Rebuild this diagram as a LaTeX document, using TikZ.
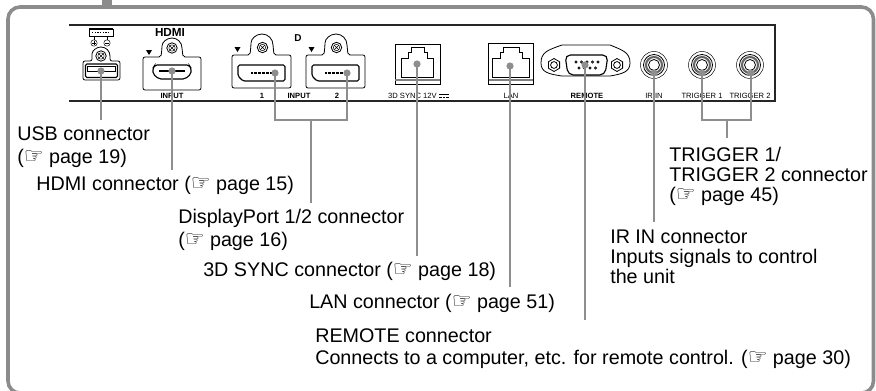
\documentclass[tikz,border=0pt]{standalone}
\usepackage{fontspec}
\setmainfont{Liberation Sans}
\newfontfamily\handfont{DejaVu Sans}
\newcommand{\hand}{\raisebox{-.5pt}{\smash{\handfont\fontsize{16.5}{17}\selectfont ☞}}}
\newcommand{\screw}[2]{%
  \draw[fine] (#1,#2) circle[radius=5.2];
  \draw[hair] (#1,#2) circle[radius=3.2];
  \draw[hair] (#1-2.6,#2-2.6) -- (#1+2.6,#2+2.6) (#1-2.6,#2+2.6) -- (#1+2.6,#2-2.6);}
\newcommand{\nut}[2]{%
  \draw[fine] (#1,#2-6.5) -- (#1+5.6,#2-3.2) -- (#1+5.6,#2+3.2) -- (#1,#2+6.5) -- (#1-5.6,#2+3.2) -- (#1-5.6,#2-3.2) -- cycle;
  \draw[fine] (#1,#2) circle[radius=3.4];}
\newcommand{\rca}[2]{%
  \draw[hair] (#1,#2) circle[radius=13.5];
  \draw[fine] (#1,#2) circle[radius=10.5];
  \draw[line width=1.6pt,black!60] (#1,#2) circle[radius=8];
  \draw[fine] (#1,#2) circle[radius=5.5];}
\newcommand{\dpport}[1]{%
  \begin{scope}[xshift=#1*0.75pt]
  \draw[fine,rounded corners=1.5pt] (232,55) -- (250,55) -- (251,45) [sharp corners] arc[start angle=180,end angle=360,radius=11] [rounded corners=1.5pt] -- (274,55) -- (291,55) -- (291,88) -- (232,88) -- cycle;
  \screw{262.5}{47.5}
  \fill (234.5,47) -- (240.5,47) -- (237.5,52) -- cycle;
  \draw[thin0,rounded corners=1.2pt] (238,65) -- (285,65) -- (285,81) -- (243,81) -- (238,76) -- cycle;
  \draw[line width=1.8pt,dash pattern=on .6pt off .4pt] (251,73) -- (274,73);
  \end{scope}}
\tikzset{
  hair/.style={line width=.35pt,black},
  fine/.style={line width=.6pt,black},
  thin0/.style={line width=.85pt,black},
  panel/.style={line width=1.0pt,black!85},
  frameline/.style={line width=2.7pt,framegray},
  leader/.style={line width=1.8pt,leadgray},
  leaddot/.style={fill=leadgray},
  lbl/.style={anchor=base west,align=left,inner sep=0pt,font=\fontsize{14.8}{15}\selectfont},
  tiny0/.style={anchor=base,inner sep=0pt,font=\fontsize{5.7}{6}\selectfont},
  tinyb/.style={anchor=base,inner sep=0pt,font=\fontsize{5.7}{6}\selectfont\bfseries},
}
\definecolor{framegray}{HTML}{8C8C8C}
\definecolor{leadgray}{HTML}{8E8E8E}
\begin{document}
\begin{tikzpicture}[x=.75pt,y=-.75pt]
\useasboundingbox (0,0) rectangle (876,390);
\clip (0,0) rectangle (876,390);
% frame and tab
\draw[frameline,rounded corners=9pt] (8,7) rectangle (873.5,393);
\fill[framegray] (102,0) rectangle (112,7);
% panel
\draw[panel] (69,25) -- (775,25) -- (775,101) -- (69,101);
% USB
\draw[line width=1.4pt] (89,29) -- (113,29);
\draw[hair] (89,29) -- (89,36) -- (113,36) -- (113,29);
\draw[line width=.7pt,dash pattern=on 1pt off 1pt] (92,32.5) -- (110,32.5);
\draw[hair] (94,36) -- (94,40) (107,36) -- (107,40);
\draw[hair] (94,43) circle[radius=3.2] (107,43) circle[radius=3.2];
\draw[hair] (92,43) -- (96,43) (94,41) -- (94,45) (105,43) -- (109,43);
\draw[fine,rounded corners=1.5pt] (83,61) -- (92,61) -- (92,56) [sharp corners] arc[start angle=180,end angle=360,radius=9] [rounded corners=1.5pt] -- (110,61) -- (120,61) -- (120,80) -- (83,80) -- cycle;
\screw{101}{56}
\draw[thin0,rounded corners=1pt] (85.5,64) rectangle (117.5,77.5);
\draw[fine] (87.5,66) rectangle (115.5,71);
% HDMI
\node[inner sep=0pt,anchor=base,font=\fontsize{8.8}{9}\selectfont\bfseries] (hdmilogo) at (170,36) {HDMI};
\draw[fine,rounded corners=1.5pt] (143,57) -- (161,57) -- (162,48) [sharp corners] arc[start angle=180,end angle=360,radius=10] [rounded corners=1.5pt] -- (183,57) -- (201,57) -- (201,90) -- (143,90) -- cycle;
\screw{172}{48}
\fill (146,50) -- (152,50) -- (149,55) -- cycle;
\draw[thin0,rounded corners=1.5pt] (155,65) -- (189,65) -- (191,68) -- (191,74) -- (185,79) -- (159,79) -- (153,74) -- (153,68) -- cycle;
\draw[line width=1.2pt] (159,71) -- (185,71);
\node[tinyb] (inputa) at (172,98) {INPUT};
% DisplayPort
\node[inner sep=0pt,anchor=base,font=\fontsize{7.5}{8}\selectfont\bfseries] (dplogo) at (298,41) {D};
\dpport{0}
\dpport{74}
\node[tinyb] (dpone) at (262,98) {1};
\node[tinyb] (inputb) at (299,98) {INPUT};
\node[tinyb] (dptwo) at (337,98) {2};
% 3D SYNC
\draw[fine] (395,44) rectangle (440,84);
\draw[line width=1pt,black!50] (395,80) -- (440,80);
\draw[fine] (401,77) -- (401,58) -- (408,58) -- (408,52) -- (411,52) -- (411,47) -- (424,47) -- (424,52) -- (427,52) -- (427,58) -- (433,58) -- (433,77) -- cycle;
\node[tiny0,anchor=base east] (sync) at (437,98) {3D SYNC 12V};
\draw[hair,line width=.6pt] (439,94.5) -- (449,94.5);
\draw[hair,line width=.6pt,dash pattern=on 2pt off .8pt] (439,97) -- (449,97);
% LAN
\draw[fine] (488.5,43) rectangle (533,84.5);
\draw[line width=1pt,black!50] (488.5,80) -- (533,80);
\draw[fine] (492,77) -- (492,58) -- (500,58) -- (500,52) -- (503,52) -- (503,47.5) -- (519,47.5) -- (519,52) -- (522,52) -- (522,58) -- (529,58) -- (529,77) -- cycle;
\node[tiny0] (lan) at (511,98) {LAN};
% REMOTE
\draw[fine] (541,63) .. controls (541,52) and (548,50) .. (562,45) -- (610,45) .. controls (622,50) and (630,52) .. (630,63) .. controls (630,72) and (622,74) .. (610,76) -- (562,76) .. controls (548,74) and (541,72) .. (541,63) -- cycle;
\nut{554}{65}
\nut{617}{65}
\draw[thin0,rounded corners=4pt] (565,55) -- (608,55) -- (605,75) -- (568,75) -- cycle;
\foreach \px in {576,581.5,587,592.5,598} \draw[fine] (\px,62) circle[radius=1.1];
\foreach \px in {579,584.5,590,595.5} \draw[fine] (\px,68) circle[radius=1.1];
\node[tinyb] (remote) at (587,98) {REMOTE};
% IR IN, TRIGGER
\rca{654}{65}
\rca{702}{65}
\rca{750}{65}
\node[tiny0] (irin) at (654,98) {IR IN};
\node[tiny0] (trigone) at (702,98) {TRIGGER 1};
\node[tiny0] (trigtwo) at (750,98) {TRIGGER 2};
% labels
\node[lbl] (usbl) at (17,163) {USB connector\\[2pt](\hand{} page 19)};
\node[lbl] (hdmil) at (36,190) {HDMI connector (\hand{} page 15)};
\node[lbl] (dpl) at (178,246) {DisplayPort 1/2 connector\\[2pt](\hand{} page 16)};
\node[lbl] (syncl) at (203,276) {3D SYNC connector (\hand{} page 18)};
\node[lbl] (lanl) at (309,308) {LAN connector (\hand{} page 51)};
\node[lbl] (remotel) at (315,364) {REMOTE connector\\[.8pt]Connects to a computer, etc. for remote control. (\hand{} page 30)};
\node[lbl] (irl) at (610,283) {IR IN connector\\Inputs signals to control\\the unit};
\node[lbl] (trigl) at (669,201) {TRIGGER 1/\\TRIGGER 2 connector\\(\hand{} page 45)};
% connector anchors
\coordinate (pusb) at (101,71);
\coordinate (phdmi) at (172,71);
\coordinate (pdpa) at (275,73);
\coordinate (pdpb) at (347,73);
\coordinate (psync) at (417,64);
\coordinate (plan) at (510,66);
\coordinate (premote) at (585,65);
\coordinate (pir) at (654,73);
\coordinate (ptra) at (702,73);
\coordinate (ptrb) at (751,73);
\coordinate (eusb) at (101,120);
\coordinate (ehdmi) at (172,170);
\coordinate (jdp) at (311,120);
\coordinate (edp) at (311,203);
\coordinate (esync) at (417,256);
\coordinate (elan) at (510,287);
\coordinate (eremote) at (585,320);
\coordinate (eir) at (654,222);
\coordinate (jtr) at (727,120);
\coordinate (etr) at (727,138);
% connectors
\draw[leader] (pusb) -- (eusb);
\draw[leader] (phdmi) -- (ehdmi);
\draw[leader] (pdpa) |- (jdp) -| (pdpb);
\draw[leader] (jdp) -- (edp);
\draw[leader] (psync) -- (esync);
\draw[leader] (plan) -- (elan);
\draw[leader] (premote) -- (eremote);
\draw[leader] (pir) -- (eir);
\draw[leader] (ptra) |- (jtr) -| (ptrb);
\draw[leader] (jtr) -- (etr);
\foreach \c in {pusb,phdmi,pdpa,pdpb,psync,plan,premote,pir,ptra,ptrb}
  \fill[leaddot] (\c) circle[radius=3.6];
\end{tikzpicture}
\end{document}
